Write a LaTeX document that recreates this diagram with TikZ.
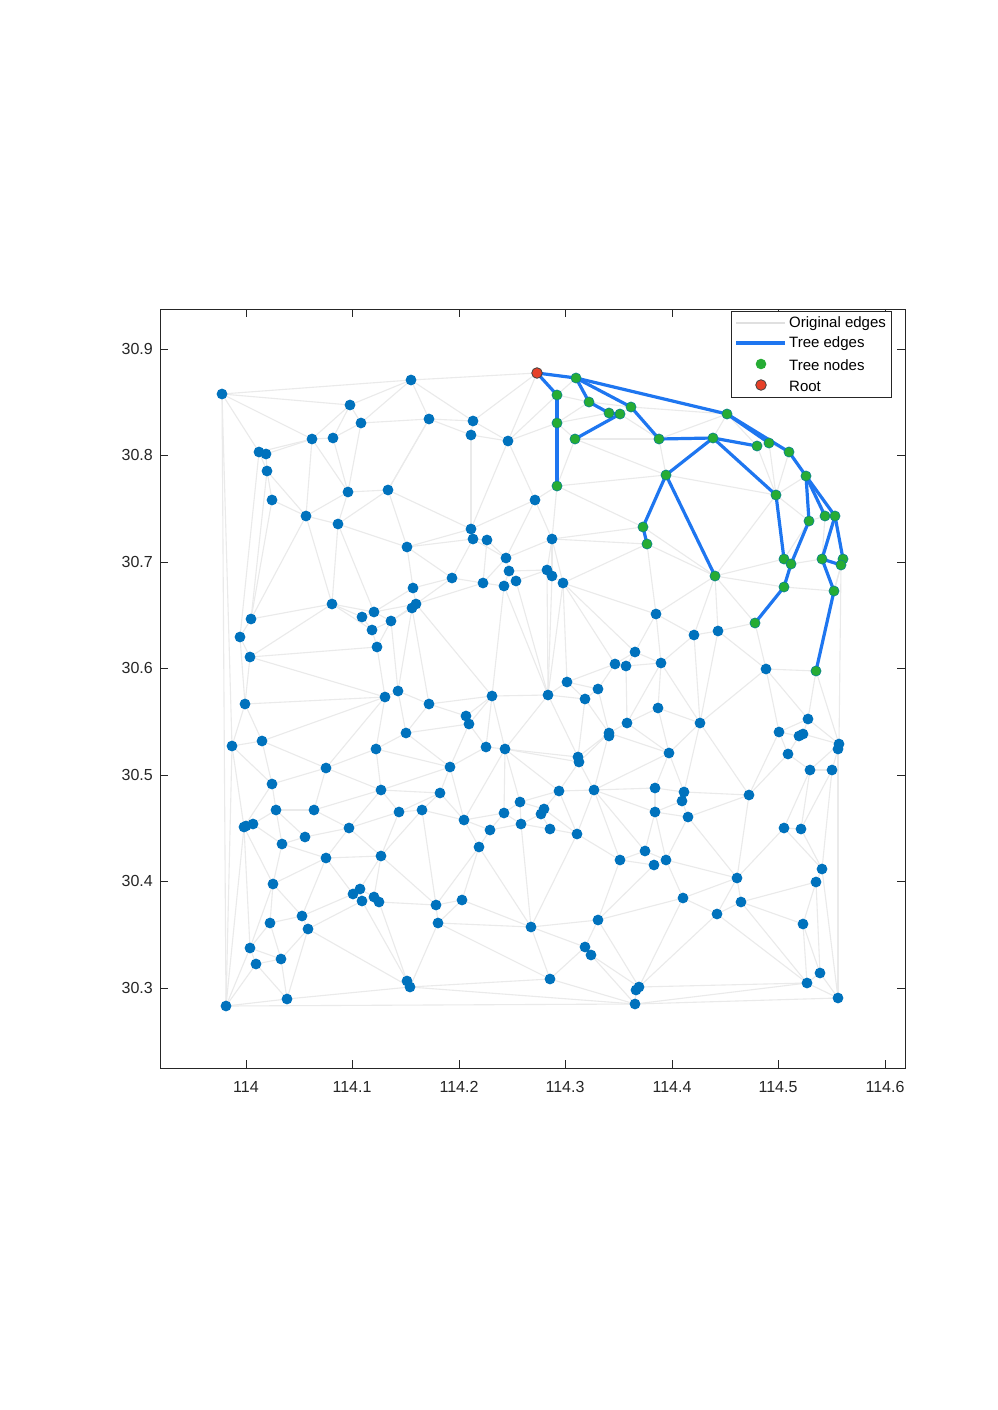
\documentclass[tikz,border=0pt]{standalone}
\usepackage{fontspec}
\setmainfont{Liberation Sans}
\definecolor{dotblue}{RGB}{0,114,189}
\definecolor{treeblue}{RGB}{30,118,240}
\definecolor{treegreen}{RGB}{38,172,52}
\definecolor{rootred}{RGB}{230,64,40}
\definecolor{edgegrey}{RGB}{234,234,234}
\definecolor{axisgrey}{RGB}{38,38,38}
\tikzset{
  greyedge/.style={draw=edgegrey,line width=1.1pt},
  treeedge/.style={draw=treeblue,line width=3.2pt,line cap=round,line join=round},
  bluedot/.style={fill=dotblue},
  greendot/.style={fill=treegreen,draw=dotblue!70!treegreen,line width=0.6pt},
  rootdot/.style={fill=rootred,draw=black!75,line width=0.8pt},
  ticklab/.style={font=\fontsize{16}{18}\selectfont,text=axisgrey,inner sep=0pt},
  leglab/.style={font=\fontsize{15}{17}\selectfont,text=black,inner sep=0pt,anchor=west},
}
\begin{document}
\begin{tikzpicture}[x=1pt,y=-1pt]
\fill[white] (0,0) rectangle (997,1410);
\useasboundingbox (0,0) rectangle (997,1410);
% points
\foreach \n/\x/\y in {a1/222/394,a2/411/380,a3/350/405,a4/361/423,a5/429/419,a6/473/421,a7/471/435,a8/508/441,a9/312/439,a10/333/438,a11/259/452,a12/266/454,a13/267/471,a14/348/492,a15/388/490,a16/272/500,a17/306/516,a18/338/524,a19/535/500,a20/471/529,a21/473/539,a22/487/540,a23/407/547,a24/552/539,a25/506/558,a26/509/571,a27/516/581,a28/547/570,a29/552/576,a30/563/583,a31/452/578,a32/483/583,a33/504/586,a34/413/588,a35/412/608,a36/416/604,a37/332/604,a38/251/619,a39/240/637,a40/250/657,a41/362/617,a42/374/612,a43/372/630,a44/391/621,a45/377/647,a46/245/704,a47/385/697,a48/398/691,a49/429/704,a50/492/696,a51/232/746,a52/262/741,a53/406/733,a54/376/749,a55/466/716,a56/469/724,a57/548/695,a58/567/682,a59/585/699,a60/598/689,a61/615/664,a62/626/666,a63/635/652,a64/656/614,a65/661/663,a66/694/635,a67/718/631,a68/627/723,a69/609/733,a70/609/736,a71/658/708,a72/700/723,a73/669/753,a74/766/669,a75/779/732,a76/788/754,a77/799/736,a78/803/734,a79/808/719,a80/839/744,a81/838/749,a82/810/770,a83/832/770,a84/486/747,a85/505/749,a86/450/767,a87/578/757,a88/579/762,a89/326/768,a90/272/784,a91/276/810,a92/314/810,a93/244/827,a94/246/826,a95/253/824,a96/282/844,a97/305/837,a98/349/828,a99/326/858,a100/381/790,a101/399/812,a102/381/856,a103/273/884,a104/360/889,a105/353/894,a106/362/901,a107/374/897,a108/379/902,a109/302/916,a110/270/923,a111/308/929,a112/250/948,a113/281/959,a114/256/964,a115/407/981,a116/410/987,a117/287/999,a118/226/1006,a119/440/793,a120/422/810,a121/464/820,a122/504/813,a123/520/802,a124/544/809,a125/541/814,a126/521/824,a127/550/829,a128/577/834,a129/490/830,a130/479/847,a131/559/791,a132/594/790,a133/620/860,a134/645/851,a135/436/905,a136/462/900,a137/438/923,a138/531/927,a139/598/920,a140/585/947,a141/591/955,a142/550/979,a143/639/987,a144/636/990,a145/635/1004,a146/655/788,a147/684/792,a148/682/801,a149/749/795,a150/655/812,a151/688/817,a152/784/828,a153/801/829,a154/666/860,a155/654/865,a156/737/878,a157/822/869,a158/816/882,a159/683/898,a160/741/902,a161/717/914,a162/803/924,a163/820/973,a164/807/983,a165/838/998}
  \coordinate (\n) at (\x,\y);
\foreach \n/\x/\y in {g0/537/373,g1/576/378,g2/557/395,g3/589/402,g4/609/413,g5/620/414,g6/631/407,g7/557/423,g8/575/439,g9/557/486,g10/727/414,g11/659/439,g12/713/438,g13/757/446,g14/769/443,g15/789/452,g16/666/475,g17/806/476,g18/776/495,g19/643/527,g20/647/544,g21/825/516,g22/835/516,g23/809/521,g24/784/559,g25/791/564,g26/822/559,g27/843/559,g28/841/565,g29/715/576,g30/784/587,g31/834/591,g32/755/623,g33/816/671}
  \coordinate (\n) at (\x,\y);
% original edges
\foreach \a/\b in {a1/a2,a1/a3,a1/a9,a1/a11,a1/a118,a1/a51,a2/a3,a2/a4,a2/a5,a2/a6,a2/g0,a6/g0,a3/a4,a3/a9,a3/a10,a4/a10,a4/a14,a4/a5,a9/a10,a9/a11,a9/a12,a9/a17,a9/a14,a10/a14,a11/a12,a12/a13,a11/a13,a13/a16,a13/a38,a16/a38,a11/a39,a13/a17,a16/a17,a17/a14,a14/a15,a14/a18,a17/a18,a15/a18,a15/a23,a18/a23,a15/a5,a18/a37,a18/a42,a17/a37,a17/a38,a5/a6,a5/a7,a5/a15,a6/a7,a7/a8,a6/a8,a7/a20,a8/g0,a8/g2,a8/g7,a8/a20,a8/a19,a15/a20,g1/g2,g2/g3,g3/g7,g4/g7,g7/g8,g3/g6,g5/g6,g5/g11,g8/g11,g8/g9,g8/g16,g9/a19,g9/a24,g9/g19,g9/g16,g11/g16,g6/g10,g10/g11,g10/g12,g10/g13,g13/g14,g14/g15,g13/g18,g14/g18,g15/g18,g16/g18,g17/g18,g18/g23,g18/g29,g19/g29,g20/g29,g21/g23,g21/g22,g21/g26,g25/g26,g27/g31,g28/g31,g24/g29,g29/g30,g30/g31,g23/g24,g24/g25,a19/a20,a19/a24,a19/a25,a20/a23,a20/a21,a21/a22,a21/a25,a22/a25,a24/a25,a24/a28,a24/g19,a24/g20,a25/a26,a21/a23,a21/a31,a22/a32,a25/a32,a23/a31,a23/a34,a24/a30,a24/a29,g29/a64,g29/a66,g29/a67,g29/g32,g20/a64,g20/a30,a30/a64,g32/a67,g32/a74,a67/a74,a66/a67,a67/a72,a64/a66,a65/a66,a66/a72,a64/a65,a65/a72,a74/g33,a72/a74,a74/a75,a74/a79,g33/a79,g33/a80,a71/a72,a65/a71,a72/a73,a72/a148,a72/a149,a73/a146,a73/a147,a75/a79,a75/a77,a75/a76,a75/a149,a78/a79,a79/a80,a76/a77,a77/a78,a78/a80,a76/a82,a76/a149,a82/a83,a81/a83,a80/a82,a80/a81,g28/a80,g27/g28,a81/a165,a146/a147,a147/a148,a147/a149,a146/a150,a148/a150,a148/a151,a150/a151,a149/a151,a149/a156,a151/a156,a151/a154,a150/a154,a134/a150,a134/a154,a154/a155,a154/a156,a154/a159,a152/a156,a156/a159,a156/a160,a156/a161,a152/a153,a152/a157,a153/a157,a82/a152,a83/a153,a82/a153,a83/a157,a157/a158,a158/a160,a158/a162,a158/a163,a160/a161,a160/a162,a160/a164,a159/a161,a143/a159,a143/a161,a161/a164,a162/a164,a162/a163,a163/a164,a163/a165,a164/a165,a143/a164,a145/a164,a145/a165,a157/a165,a139/a159,a133/a155,a139/a155,a143/a144,a144/a145,a139/a143,a141/a143,a141/a145,a132/a146,a132/a150,a132/a134,a133/a134,a132/a133,a119/a120,a119/a121,a86/a119,a101/a120,a120/a121,a120/a135,a102/a135,a121/a122,a121/a130,a122/a123,a122/a126,a122/a129,a123/a126,a123/a124,a123/a131,a124/a131,a125/a126,a126/a127,a125/a127,a124/a125,a127/a128,a124/a128,a131/a132,a128/a131,a128/a132,a128/a133,a128/a138,a126/a138,a129/a130,a130/a138,a130/a135,a130/a136,a135/a136,a135/a137,a136/a137,a136/a138,a137/a138,a137/a142,a116/a137,a138/a139,a138/a140,a138/a142,a133/a139,a139/a140,a140/a141,a140/a142,a142/a145,a116/a142,a116/a145,a118/a145,a121/a129,a126/a129,a89/a90,a90/a91,a52/a90,a90/a93,a91/a92,a91/a95,a91/a96,a91/a97,a92/a98,a89/a92,a97/a98,a96/a97,a96/a99,a95/a96,a93/a94,a94/a95,a93/a103,a93/a112,a93/a118,a96/a103,a98/a99,a98/a100,a98/a102,a98/a101,a99/a102,a99/a103,a99/a105,a99/a109,a101/a102,a100/a101,a102/a104,a102/a107,a103/a109,a103/a110,a103/a112,a104/a105,a104/a106,a105/a106,a104/a107,a106/a107,a107/a108,a105/a109,a106/a111,a106/a115,a108/a115,a108/a135,a109/a110,a109/a111,a110/a112,a110/a113,a111/a113,a111/a117,a111/a116,a112/a113,a112/a114,a112/a118,a113/a114,a113/a117,a114/a117,a114/a118,a117/a118,a116/a117,a115/a116,a89/a100,a92/a100,a100/a119,a101/a119,a102/a120,a51/a93,a51/a118,a37/a38,a38/a39,a37/a41,a37/a43,a37/a42,a37/a40,a39/a40,a40/a46,a40/a45,a40/a47,a41/a42,a41/a43,a42/a44,a36/a42,a34/a42,a43/a45,a43/a44,a44/a45,a36/a44,a35/a44,a44/a48,a45/a47,a46/a47,a46/a51,a47/a52,a47/a48,a47/a54,a47/a89,a48/a53,a51/a52,a51/a90,a52/a89,a53/a54,a54/a89,a54/a100,a39/a46,a46/a52,a34/a36,a35/a36,a54/a86,a53/a86,a86/a100,a31/a34,a31/a32,a31/a36,a32/a36,a32/a33,a26/a33,a27/a33,a33/a50,a33/a57,a27/a28,a26/a28,a26/a27,a28/a29,a29/a30,a30/a58,a30/a63,a30/a61,a36/a50,a35/a49,a35/a48,a49/a50,a50/a55,a50/a85,a49/a55,a49/a53,a53/a56,a55/a56,a56/a84,a56/a86,a84/a86,a84/a85,a57/a85,a85/a87,a57/a58,a57/a59,a57/a87,a58/a60,a58/a61,a58/a59,a59/a60,a60/a61,a60/a69,a61/a62,a61/a63,a62/a63,a62/a68,a62/a65,a63/a65,a65/a68,a68/a69,a68/a71,a69/a87,a69/a132,a63/a64,a48/a49,a50/a57,a59/a87,a59/a69,a69/a73,a73/a132,a68/a73,a71/a73,a87/a88,a88/a131,a88/a132,a69/a88,a85/a88,a85/a123,a85/a131,a85/a121,a85/a122,a86/a121,a69/a70,a50/a56,a50/a84,a27/a57,a28/a57,a29/a57,a30/a57}
  \draw[greyedge] (\a) -- (\b);
% tree edges
\foreach \a/\b in {g0/g1,g0/g2,g2/g7,g7/g9,g1/g3,g3/g4,g4/g5,g5/g8,g1/g6,g6/g11,g1/g10,g10/g14,g10/g15,g15/g17,g11/g12,g12/g13,g12/g16,g12/g18,g16/g19,g19/g20,g16/g29,g18/g24,g25/g30,g30/g32,g17/g23,g23/g25,g17/g21,g17/g22,g22/g26,g22/g27,g26/g28,g26/g31,g31/g33}
  \draw[treeedge] (\a) -- (\b);
% blue nodes
\foreach \i in {1,...,165}
  \fill[bluedot] (a\i) circle[radius=5.4pt];
% tree nodes
\foreach \i in {1,...,33}
  \filldraw[greendot] (g\i) circle[radius=5.1pt];
\filldraw[rootdot] (g0) circle[radius=5.3pt];
% axes box
\draw[axisgrey,line width=0.9pt] (160,309) rectangle (905,1068);
\foreach \x/\l in {246/114,352/114.1,459/114.2,565/114.3,672/114.4,778/114.5,885/114.6}{
  \draw[axisgrey,line width=0.9pt] (\x,1068) -- (\x,1060);
  \draw[axisgrey,line width=0.9pt] (\x,309) -- (\x,317);
  \node[ticklab] (xt\x) at (\x,1087) {\l};
}
\foreach \y/\l in {349/30.9,455/30.8,562/30.7,668/30.6,775/30.5,881/30.4,988/30.3}{
  \draw[axisgrey,line width=0.9pt] (160,\y) -- (168,\y);
  \draw[axisgrey,line width=0.9pt] (905,\y) -- (897,\y);
  \node[ticklab,anchor=east] (yt\y) at (153,\y) {\l};
}
% legend
\draw[axisgrey,fill=white,line width=0.9pt] (731,311) rectangle (891,397);
\coordinate (l1a) at (736,323); \coordinate (l1b) at (785,323);
\coordinate (l2a) at (736,343); \coordinate (l2b) at (785,343);
\draw[draw=black!12,line width=1.1pt] (l1a) -- (l1b);
\draw[draw=treeblue,line width=3.2pt] (l2a) -- (l2b);
\coordinate (l3) at (761,364);
\coordinate (l4) at (761,385);
\fill[treegreen] (l3) circle[radius=5.3pt];
\filldraw[rootdot] (l4) circle[radius=5.3pt];
\node[leglab] (t1) at (789,324) {Original edges};
\node[leglab] (t2) at (789,344) {Tree edges};
\node[leglab] (t3) at (789,365) {Tree nodes};
\node[leglab] (t4) at (789,386) {Root};
\end{tikzpicture}
\end{document}
